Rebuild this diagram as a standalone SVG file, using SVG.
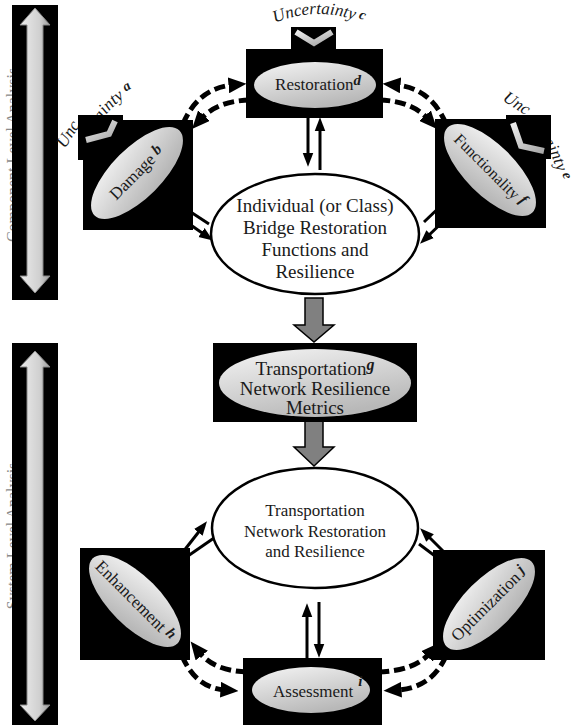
<svg xmlns="http://www.w3.org/2000/svg" width="575" height="727" viewBox="0 0 575 727">
<style>
text{font-family:"Liberation Serif","Times New Roman",serif;fill:#1a1a1a}
.lbl{font-size:16px}
.l17{font-size:17px}
.l19{font-size:19px}
.sup{font-weight:bold;font-style:italic}
.unc{font-size:17px;font-style:italic}
.box{fill:#000}
.bub{fill:url(#eg)}
.chev{fill:none;stroke:url(#cg);stroke-width:6;stroke-linejoin:miter}
.dash{fill:none;stroke:#000;stroke-width:5;stroke-dasharray:11 5;marker-end:url(#ad)}
.sol{fill:none;stroke:#000;stroke-width:3}
.sa{marker-end:url(#as)}
.side{font-size:16px;fill:#8a8a8a}
.bar{fill:#000}
.barrow{fill:url(#bg);stroke:#888;stroke-width:1}
.garrow{fill:#808080;stroke:#000;stroke-width:1.5}
.oval{fill:#fff;stroke:#000;stroke-width:2.5}
</style>
<defs>
<linearGradient id="eg" x1="0" y1="0" x2="0.5" y2="1"><stop offset="0" stop-color="#f5f5f5"/><stop offset="1" stop-color="#b8b8b8"/></linearGradient>
<linearGradient id="cg" x1="0" y1="0" x2="1" y2="1"><stop offset="0" stop-color="#ededed"/><stop offset="1" stop-color="#a8a8a8"/></linearGradient>
<linearGradient id="bg" x1="0" y1="0" x2="1" y2="0"><stop offset="0" stop-color="#ececec"/><stop offset="0.65" stop-color="#d0d0d0"/><stop offset="1" stop-color="#9a9a9a"/></linearGradient>
<marker id="ad" markerUnits="userSpaceOnUse" markerWidth="18" markerHeight="16" viewBox="0 0 16 14" refX="4" refY="7" orient="auto"><path d="M0,0 L16,7 L0,14 Z" fill="#000"/></marker>
<marker id="as" markerUnits="userSpaceOnUse" markerWidth="14" markerHeight="12" viewBox="0 0 13 10" refX="4" refY="5" orient="auto"><path d="M0,0 L13,5 L0,10 Z" fill="#000"/></marker>
<path id="pa1" d="M65,149 L82,122"/>
<path id="pa2" d="M90,137 L102,121 Q113,102 142,87"/>
<path id="pc" d="M270,25 Q318,3 368,25"/>
<path id="pe1" d="M502,100 L528,117"/>
<path id="pe2" d="M527,131 L540,140 Q552,148 563,192"/>
</defs>

<g id="side-bars">
<text class="side" transform="rotate(-90 18 155)" x="18" y="155" text-anchor="middle">Component Level Analysis</text>
<rect class="bar" x="12" y="5" width="46" height="295"/>
<polygon class="barrow" points="35,8 50,25 43,25 43,276 50,276 35,293 20,276 27,276 27,25 20,25"/>
<text class="side" transform="rotate(-90 18 536)" x="18" y="536" text-anchor="middle">System Level Analysis</text>
<rect class="bar" x="12" y="343" width="46" height="382"/>
<polygon class="barrow" points="35,351 50,367 43,367 43,705 50,705 35,721 20,705 27,705 27,367 20,367"/>
</g>

<g id="connectors">
<path class="dash" d="M183,124 Q198,88 233,85"/>
<path class="dash" d="M250,100 Q217,101 201,119"/>
<path class="dash" d="M446,124 Q431,88 396,85"/>
<path class="dash" d="M379,100 Q412,101 428,119"/>
<path class="dash" d="M182,656 Q196,688 225,690"/>
<path class="dash" d="M247,672 Q214,671 199,652"/>
<path class="dash" d="M446,656 Q432,688 397,690"/>
<path class="dash" d="M378,672 Q414,671 430,653"/>
<path class="sol" d="M180,205 L209,224"/>
<path class="sol sa" d="M175,214 L205,235"/>
<path class="sol" d="M446,201 L424,222"/>
<path class="sol sa" d="M452,213 L427,237"/>
<path class="sol sa" d="M172,566 L201,529"/>
<path class="sol" d="M214,538 L185,558"/>
<path class="sol sa" d="M458,566 L427,535"/>
<path class="sol" d="M419,544 L443,562"/>
<path class="sol sa" d="M308,112 L308,157"/>
<path class="sol sa" d="M320,170 L320,127"/>
<path class="sol sa" d="M307,660 L307,613"/>
<path class="sol sa" d="M319,602 L319,648"/>
<polygon class="garrow" points="305,298 323,298 323,325 334,325 314,342 294,325 305,325"/>
<polygon class="garrow" points="305,421 323,421 323,447 334,447 314,466 294,447 305,447"/>
</g>

<g id="restoration">
<text class="unc"><textPath href="#pc" startOffset="50%" text-anchor="middle">Uncertainty<tspan class="sup" font-size="14" dx="3" dy="-3">c</tspan></textPath></text>
<rect class="box" x="291" y="27" width="45" height="23"/>
<polyline class="chev" points="296,32 314,43 332,32"/>
<rect class="box" x="246" y="49" width="137" height="69"/>
<ellipse class="bub" cx="315" cy="85" rx="61" ry="23"/>
<text class="l17" x="318" y="90" text-anchor="middle">Restoration<tspan class="sup" font-size="15" dy="-5">d</tspan></text>
</g>

<g id="damage">
<text class="unc"><textPath href="#pa1">Unc</textPath><textPath href="#pa2">ertainty<tspan class="sup" font-size="14" dx="4" dy="-4">a</tspan></textPath></text>
<rect class="box" x="83" y="120" width="110" height="110"/>
<rect class="box" x="78" y="115" width="45" height="45"/>
<polyline class="chev" stroke-width="5" points="86,140 109,134 115,121"/>
<ellipse class="bub" cx="137" cy="173" rx="60" ry="25" transform="rotate(-45 137 173)"/>
<text class="l17" x="137" y="178" text-anchor="middle" transform="rotate(-45 137 173)">Damage <tspan class="sup" font-size="15" dy="-3">b</tspan></text>
</g>

<g id="functionality">
<text class="unc"><textPath href="#pe1">Unc</textPath><textPath href="#pe2">ertainty<tspan class="sup" font-size="14" dx="3" dy="-4">e</tspan></textPath></text>
<rect class="box" x="435" y="119" width="111" height="109"/>
<rect class="box" x="506" y="115" width="45" height="44"/>
<polyline class="chev" stroke-width="5" points="513,123 521,146 544,151"/>
<ellipse class="bub" cx="490" cy="170" rx="60" ry="25" transform="rotate(45 490 170)"/>
<text class="lbl" x="490" y="175" text-anchor="middle" transform="rotate(45 490 170)">Functionality <tspan class="sup" font-size="15" dy="-3">f</tspan></text>
</g>

<g id="bridge-resilience">
<ellipse class="oval" cx="315" cy="234" rx="104" ry="60"/>
<text class="l19" text-anchor="middle"><tspan x="315" y="212">Individual (or Class)</tspan><tspan x="315" y="234">Bridge Restoration</tspan><tspan x="315" y="256">Functions and</tspan><tspan x="315" y="278">Resilience</tspan></text>
</g>

<g id="network-metrics">
<rect class="box" x="213" y="343" width="204" height="79"/>
<ellipse class="bub" cx="315" cy="383" rx="96" ry="34"/>
<text class="l19" text-anchor="middle"><tspan x="315" y="375">Transportation<tspan class="sup" font-size="16" dy="-5">g</tspan></tspan><tspan x="315" y="395">Network Resilience</tspan><tspan x="315" y="414">Metrics</tspan></text>
</g>

<g id="network-resilience">
<ellipse class="oval" cx="315" cy="528" rx="103" ry="60"/>
<text class="l17" text-anchor="middle"><tspan x="315" y="516">Transportation</tspan><tspan x="315" y="537">Network Restoration</tspan><tspan x="315" y="557">and Resilience</tspan></text>
</g>

<g id="enhancement">
<rect class="box" x="80" y="548" width="110" height="112"/>
<ellipse class="bub" cx="135" cy="601" rx="60" ry="25" transform="rotate(45 135 601)"/>
<text class="l17" x="135" y="606" text-anchor="middle" transform="rotate(45 135 601)">Enhancement <tspan class="sup" font-size="15" dy="-3">h</tspan></text>
</g>

<g id="optimization">
<rect class="box" x="433" y="550" width="112" height="110"/>
<ellipse class="bub" cx="489" cy="604" rx="60" ry="25" transform="rotate(-45 489 604)"/>
<text class="l17" x="489" y="609" text-anchor="middle" transform="rotate(-45 489 604)">Optimization <tspan class="sup" font-size="15" dy="-3">j</tspan></text>
</g>

<g id="assessment">
<rect class="box" x="243" y="658" width="139" height="67"/>
<ellipse class="bub" cx="311" cy="690" rx="59" ry="23"/>
<text class="l17" x="273" y="697">Assessment<tspan class="sup" font-size="15" dx="5" dy="-11">i</tspan></text>
</g>
</svg>
